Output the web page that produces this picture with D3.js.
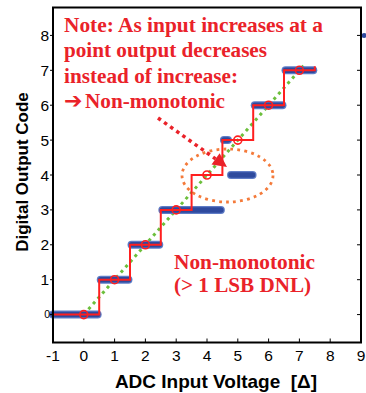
<!DOCTYPE html>
<html><head><meta charset="utf-8">
<script src="https://cdn.jsdelivr.net/npm/d3@7"></script>
<style>
body{margin:0;background:#fff}
svg{display:block}
</style>
</head><body>
<svg id="chart" width="366" height="393"></svg>
<script>
// Ideal transfer staircase: transition edges and the code held between them
const stepEdges = [-1, 0.5, 1.5, 2.5, 3.5, 4.5, 5.5, 6.5, 7.5];
const idealCodes = [0, 1, 2, 3, 4, 5, 6, 7];
const endRiser = [7.5, 7.12];
// Ideal sample points (bin centres)
const centreX = [0, 1, 2, 3, 4, 5, 6, 7];
const centreCode = [0, 1, 2, 3, 4, 5, 6, 7];
// Measured ADC output: runs of samples [start, end] at a code
const runStart = [-1, 0.55, 1.55, 2.55, 4.55, 4.78, 5.55, 6.55];
const runEnd   = [0.45, 1.45, 2.45, 4.45, 4.68, 5.48, 6.45, 7.45];
const runCode  = [0, 1, 2, 3, 5, 4, 6, 7];
const strayX = [9.1], strayCode = [8];
// Ideal straight-line response
const lineX = [0, 7.2];
// Axis ticks
const xTicks = [-1, 0, 1, 2, 3, 4, 5, 6, 7, 8, 9];
const yTicks = [0, 1, 2, 3, 4, 5, 6, 7, 8];

const svg = d3.select("#chart");
const x = d3.scaleLinear().domain([-1, 9]).range([53, 361]);
const y = d3.scaleLinear().domain([-0.8, 8.8]).range([342.5, 7.5]);

const RED = "#ff1f1f", TXT = "#ea2229", BLUE_DARK = "#2e4a9e", BLUE_LIGHT = "#5f7cc6";
const GREEN = "#6cbf3c", ORANGE = "#f47a3a";

// ideal straight line (green dotted)
svg.append("line")
  .attr("x1", x(lineX[0])).attr("y1", y(lineX[0]))
  .attr("x2", x(lineX[1])).attr("y2", y(lineX[1]))
  .attr("stroke", GREEN).attr("stroke-width", 3)
  .attr("stroke-dasharray", "3,4");

// measured output runs (thick blue bands)
const runs = runCode.map((c, i) => ({x0: runStart[i], x1: runEnd[i], c}));
[[8, BLUE_LIGHT], [5.5, BLUE_DARK]].forEach(([w, col]) => {
  svg.append("g").selectAll("line").data(runs).join("line")
    .attr("x1", d => x(d.x0)).attr("x2", d => x(d.x1))
    .attr("y1", d => y(d.c)).attr("y2", d => y(d.c))
    .attr("stroke", col).attr("stroke-width", w)
    .attr("stroke-linecap", "round");
});
svg.append("g").selectAll("circle").data(strayX).join("circle")
  .attr("cx", d => x(d)).attr("cy", (d, i) => y(strayCode[i]))
  .attr("r", 2.5).attr("fill", BLUE_DARK);

// ideal staircase (red)
const stairPts = [];
idealCodes.forEach((c, i) => {
  stairPts.push([stepEdges[i], c]);
  stairPts.push([stepEdges[i + 1], c]);
});
stairPts.push(endRiser);
svg.append("path")
  .attr("d", d3.line().x(d => x(d[0])).y(d => y(d[1]))(stairPts))
  .attr("fill", "none").attr("stroke", RED).attr("stroke-width", 2);
svg.append("g").selectAll("circle").data(centreX).join("circle")
  .attr("cx", d => x(d)).attr("cy", (d, i) => y(centreCode[i]))
  .attr("r", 4).attr("fill", "none").attr("stroke", RED).attr("stroke-width", 1.6);

// frame and ticks
svg.append("rect").attr("x", 53).attr("y", 7.5).attr("width", 308).attr("height", 335)
  .attr("fill", "none").attr("stroke", "#000").attr("stroke-width", 2);
const tk = svg.append("g").attr("stroke", "#000").attr("stroke-width", 1);
xTicks.forEach(t => tk.append("line").attr("x1", x(t)).attr("x2", x(t)).attr("y1", 342.5).attr("y2", 338.5));
yTicks.forEach(t => {
  tk.append("line").attr("x1", 361).attr("x2", 357).attr("y1", y(t)).attr("y2", y(t));
  tk.append("line").attr("x1", 53).attr("x2", 50).attr("y1", y(t)).attr("y2", y(t));
});

const sans = "'Liberation Sans', Arial, Helvetica, sans-serif";
const serif = "'Liberation Serif', 'Times New Roman', 'DejaVu Serif', serif";
svg.append("g").selectAll("text").data(xTicks).join("text")
  .attr("x", d => x(d)).attr("y", 361)
  .attr("text-anchor", "middle").attr("font-family", sans).attr("font-size", 15.5)
  .text(d => d);
svg.append("g").selectAll("text").data(yTicks).join("text")
  .attr("x", d => d === 0 ? 50 : 49).attr("y", d => y(d))
  .attr("dy", "0.36em")
  .attr("text-anchor", "end").attr("font-family", sans)
  .attr("font-size", d => d === 0 ? 10.5 : 15.5)
  .text(d => d);

// axis titles
svg.append("text").attr("transform", "translate(28,172) rotate(-90)")
  .attr("text-anchor", "middle").attr("font-family", sans).attr("font-weight", "bold")
  .attr("font-size", 17).text("Digital Output Code");
svg.append("text").attr("x", 216).attr("y", 388)
  .attr("text-anchor", "middle").attr("font-family", sans).attr("font-weight", "bold")
  .attr("font-size", 19).style("white-space", "pre").text("ADC Input Voltage  [Δ]");

// highlight ellipse around the non-monotonic step
svg.append("ellipse").attr("cx", 227.5).attr("cy", 175.5).attr("rx", 45.5).attr("ry", 26.5)
  .attr("fill", "none").attr("stroke", ORANGE).attr("stroke-width", 2.8)
  .attr("stroke-dasharray", "2.8,4.2");

// dotted pointer arrow
const a0 = [158, 118], a1 = [227, 167];
const ang = Math.atan2(a1[1] - a0[1], a1[0] - a0[0]);
const hl = 14, hw = 7;
const base = [a1[0] - hl * Math.cos(ang), a1[1] - hl * Math.sin(ang)];
svg.append("line").attr("x1", a0[0]).attr("y1", a0[1]).attr("x2", base[0]).attr("y2", base[1])
  .attr("stroke", TXT).attr("stroke-width", 3.5).attr("stroke-dasharray", "3.5,4");
svg.append("path")
  .attr("d", `M${a1[0]},${a1[1]}L${base[0] + hw * Math.sin(ang)},${base[1] - hw * Math.cos(ang)}L${base[0] - hw * Math.sin(ang)},${base[1] + hw * Math.cos(ang)}Z`)
  .attr("fill", TXT);

// notes (each line fitted to its set width)
const note = ["Note: As input increases at a", "point output decreases", "instead of increase:"];
const noteW = [259, 203, 174];
const noteG = svg.append("g").attr("font-family", serif).attr("font-weight", "bold")
  .attr("font-size", 21).attr("fill", TXT);
noteG.selectAll("text").data(note).join("text")
  .attr("x", 64).attr("y", (d, i) => 32 + i * 25.3)
  .attr("textLength", (d, i) => noteW[i]).attr("lengthAdjust", "spacingAndGlyphs")
  .text(d => d);
const last = noteG.append("text").attr("x", 64).attr("y", 32 + 3 * 25.3);
last.append("tspan").attr("font-family", "'DejaVu Sans', sans-serif").attr("font-size", 22).text("\u2794");
noteG.append("text").attr("x", 85).attr("y", 32 + 3 * 25.3)
  .attr("textLength", 140).attr("lengthAdjust", "spacingAndGlyphs").text("Non-monotonic");

const note2 = ["Non-monotonic", "(> 1 LSB DNL)"];
const note2W = [141, 137];
svg.append("g").selectAll("text").data(note2).join("text")
  .attr("x", 174).attr("y", (d, i) => 269 + i * 22.5)
  .attr("font-family", serif).attr("font-weight", "bold").attr("font-size", 21)
  .attr("textLength", (d, i) => note2W[i]).attr("lengthAdjust", "spacingAndGlyphs")
  .attr("fill", TXT).text(d => d);
</script>
</body></html>
